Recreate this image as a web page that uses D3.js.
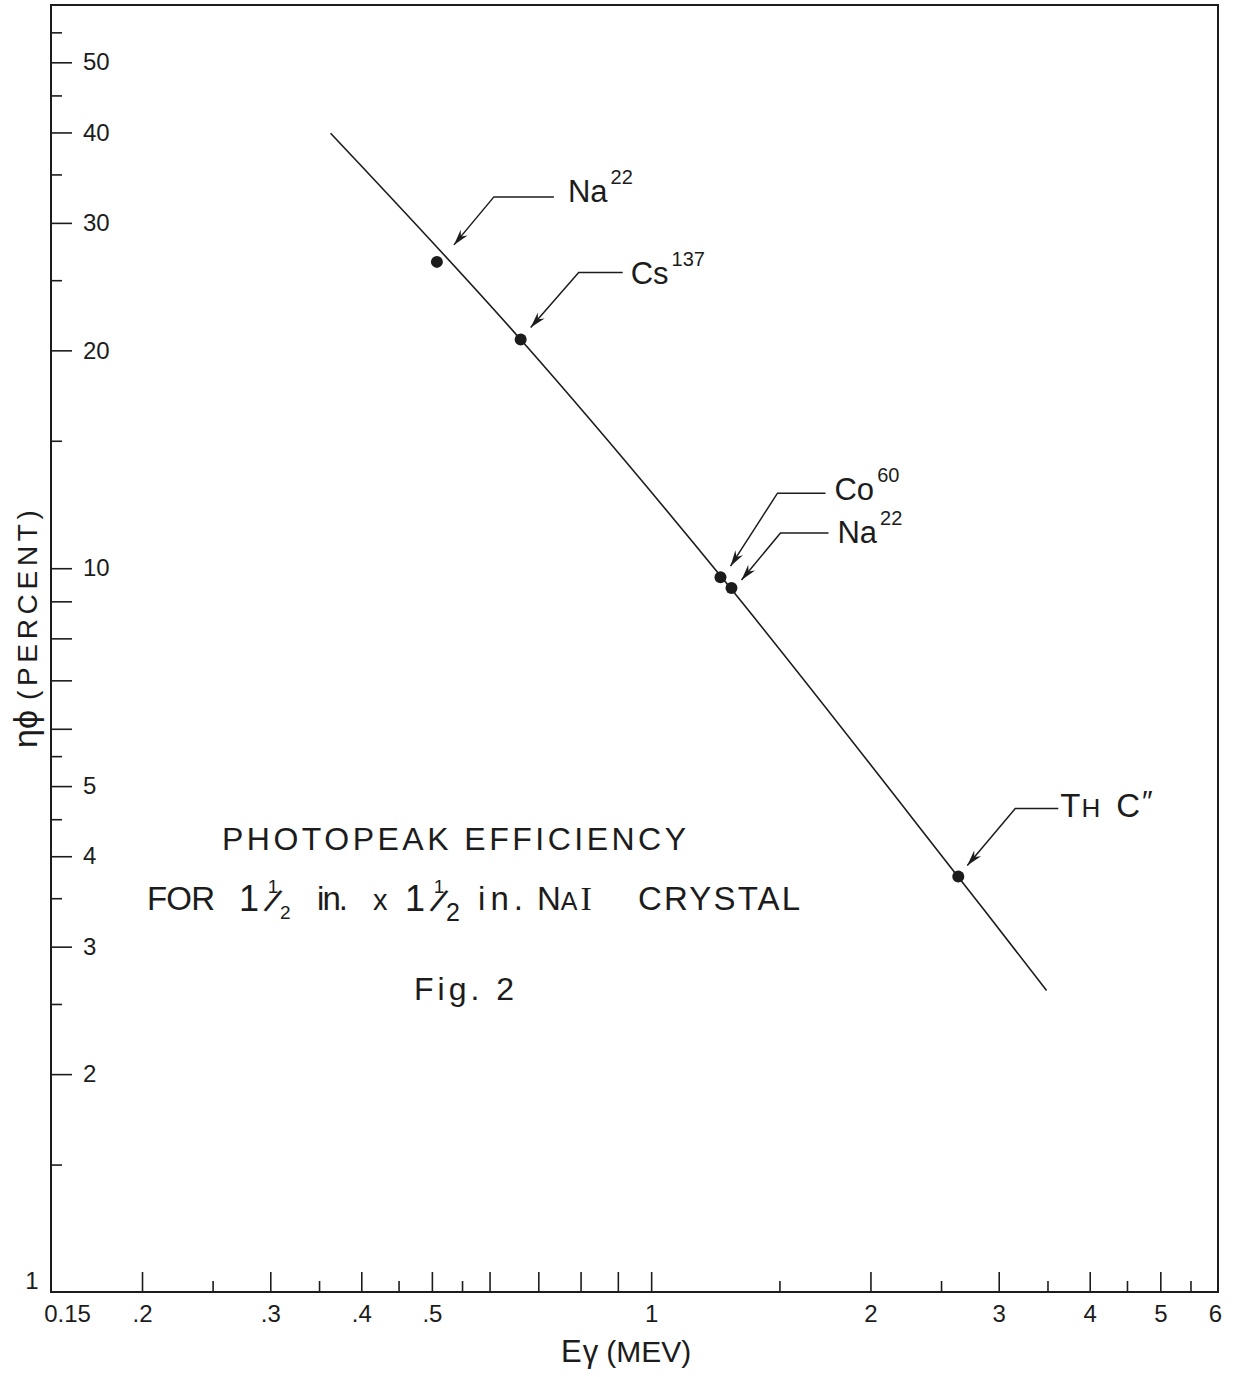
<!DOCTYPE html>
<html>
<head>
<meta charset="utf-8">
<script src="https://cdn.jsdelivr.net/npm/d3@7"></script>
<style>
  html, body { margin: 0; padding: 0; background: #ffffff; }
  svg { display: block; }
</style>
</head>
<body>
<svg id="chart" width="1234" height="1377"></svg>
<script>
// Calibration sources: gamma energy (MeV) and measured photopeak efficiency (%)
const sourceSymbol = ["Na", "Cs", "Co", "Na", "ThC"];
const sourceMass = ["22", "137", "60", "22", "″"];
const energy = [0.508, 0.662, 1.245, 1.289, 2.64];
const efficiency = [26.5, 20.7, 9.72, 9.39, 3.75];

// Smooth efficiency curve drawn through the measurements
const curveEnergy = [0.363, 0.662, 1.265, 2.64, 3.49];
const curveEfficiency = [39.9, 20.7, 9.57, 3.745, 2.61];

// Axis ticks and labels
const xMajorTicks = [0.2, 0.3, 0.4, 0.5, 0.6, 0.7, 0.8, 0.9, 1, 2, 3, 4, 5];
const xMinorTicks = [0.25, 0.35, 0.45, 0.55, 1.5, 2.5, 3.5, 4.5, 5.5];
const xLabelValues = [0.15, 0.2, 0.3, 0.4, 0.5, 1, 2, 3, 4, 5, 6];
const xTickLabels = ["0.15", ".2", ".3", ".4", ".5", "1", "2", "3", "4", "5", "6"];
const yMajorTicks = [2, 3, 4, 5, 6, 7, 8, 9, 10, 20, 30, 40, 50];
const yMinorTicks = [1.5, 2.5, 3.5, 4.5, 5.5, 15, 25, 35, 45, 55];
const yLabelValues = [1, 2, 3, 4, 5, 10, 20, 30, 40, 50];
const yTickLabels = ["1", "2", "3", "4", "5", "10", "20", "30", "40", "50"];

// Callout geometry (pixel offsets from each point): arrow tip, elbow, leader end, label origin
const calloutLayout = [
  { tip: [17, -17], elbow: [57, -65], end: [117, -65], label: [131, -60] },
  { tip: [10, -12], elbow: [58, -67], end: [102, -67], label: [110, -56] },
  { tip: [10, -11], elbow: [57, -84], end: [105, -84], label: [114, -77] },
  { tip: [10, -8],  elbow: [49, -55], end: [97, -55],  label: [106, -45] },
  { tip: [9, -11],  elbow: [57, -68], end: [100, -68], label: [102, -60] }
];

const ink = "#1c1c1c";
const font = "'Liberation Sans', Arial, sans-serif";
const serif = "'Liberation Serif', serif";

const svg = d3.select("#chart");
svg.append("rect").attr("width", 1234).attr("height", 1377).attr("fill", "#ffffff");

const x = d3.scaleLog().domain([0.15, 6]).range([51, 1218]);
const y = d3.scaleLog().domain([1, 60]).range([1292, 5]);

const defs = svg.append("defs");
defs.append("marker")
  .attr("id", "arrowhead")
  .attr("viewBox", "-17 -6 18 12")
  .attr("refX", 0).attr("refY", 0)
  .attr("markerWidth", 18).attr("markerHeight", 12)
  .attr("markerUnits", "userSpaceOnUse")
  .attr("orient", "auto")
  .append("path")
  .attr("d", "M0,0 L-16,-4.5 L-11,0 L-16,4.5 Z")
  .attr("fill", ink);

// Plot frame
svg.append("rect")
  .attr("x", x(0.15)).attr("y", y(60))
  .attr("width", x(6) - x(0.15)).attr("height", y(1) - y(60))
  .attr("fill", "none").attr("stroke", ink).attr("stroke-width", 2);

function styleAxis(g, size) {
  g.select(".domain").remove();
  g.selectAll(".tick line").attr("stroke", ink).attr("stroke-width", 1.6);
  g.attr("font-family", font).attr("font-size", size);
  g.selectAll(".tick text").attr("fill", ink);
}

// X axis: ticks point inward from the bottom edge
const gx = svg.append("g").attr("transform", `translate(0,${y(1)})`);
gx.append("g").call(d3.axisBottom(x).tickValues(xMajorTicks).tickSize(-20).tickFormat(""))
  .call(g => styleAxis(g, 24));
gx.append("g").call(d3.axisBottom(x).tickValues(xMinorTicks).tickSize(-11).tickFormat(""))
  .call(g => styleAxis(g, 24));
const gxl = gx.append("g")
  .call(d3.axisBottom(x).tickValues(xLabelValues).tickSize(0).tickPadding(13)
    .tickFormat((d, i) => xTickLabels[i]))
  .call(g => styleAxis(g, 24));
gxl.selectAll(".tick text").filter(d => d === 0.15).attr("dx", 16);
gxl.selectAll(".tick text").filter(d => d === 6).attr("dx", -3);

// Y axis: ticks point inward from the left edge, labels inside the frame
const gy = svg.append("g").attr("transform", `translate(${x(0.15)},0)`);
gy.append("g").call(d3.axisRight(y).tickValues(yMajorTicks).tickSize(21).tickFormat(""))
  .call(g => styleAxis(g, 24));
gy.append("g").call(d3.axisRight(y).tickValues(yMinorTicks).tickSize(11).tickFormat(""))
  .call(g => styleAxis(g, 24));
const gyl = gy.append("g")
  .call(d3.axisRight(y).tickValues(yLabelValues).tickSize(0).tickPadding(32)
    .tickFormat((d, i) => yTickLabels[i]))
  .call(g => styleAxis(g, 24));
gyl.selectAll(".tick text").filter(d => d === 1)
  .attr("x", -19).attr("text-anchor", "middle").attr("dy", "-0.15em");

// Efficiency curve
const curvePts = curveEnergy.map((e, i) => [x(e), y(curveEfficiency[i])]);
svg.append("path")
  .attr("d", d3.line().curve(d3.curveCatmullRom.alpha(0.5))(curvePts))
  .attr("fill", "none").attr("stroke", ink).attr("stroke-width", 1.6);

// Measured points
svg.append("g").selectAll("circle")
  .data(energy)
  .join("circle")
  .attr("cx", (d) => x(d))
  .attr("cy", (d, i) => y(efficiency[i]))
  .attr("r", 6)
  .attr("fill", ink);

// Source callouts
energy.forEach((e, i) => {
  const px = x(e), py = y(efficiency[i]);
  const L = calloutLayout[i];
  const pts = [L.end, L.elbow, L.tip].map(p => [px + p[0], py + p[1]]);
  svg.append("path")
    .attr("d", d3.line()(pts))
    .attr("fill", "none").attr("stroke", ink).attr("stroke-width", 1.5)
    .attr("marker-end", "url(#arrowhead)");

  const t = svg.append("text")
    .attr("x", px + L.label[0]).attr("y", py + L.label[1])
    .attr("font-family", font).attr("fill", ink);
  if (sourceSymbol[i] === "ThC") {
    t.append("tspan").attr("font-size", 33).text("T");
    t.append("tspan").attr("font-size", 26).attr("dx", 1).text("H");
    t.append("tspan").attr("font-size", 33).attr("dx", 16).text("C");
    t.append("tspan").attr("font-size", 30).attr("dx", 2).attr("dy", -6).text(sourceMass[i]);
  } else {
    t.append("tspan").attr("font-size", 31).text(sourceSymbol[i]);
    t.append("tspan").attr("font-size", 20).attr("dx", 3).attr("dy", -18).text(sourceMass[i]);
  }
});

// Figure caption inside the plot
const cap = svg.append("g").attr("font-family", font).attr("fill", ink);
cap.append("text").attr("x", 222).attr("y", 850).attr("font-size", 32)
  .attr("textLength", 464).attr("lengthAdjust", "spacing")
  .text("PHOTOPEAK  EFFICIENCY");

const base2 = 910;
function word(x0, str, size, len) {
  const t = cap.append("text").attr("x", x0).attr("y", base2).attr("font-size", size).text(str);
  if (len) t.attr("textLength", len).attr("lengthAdjust", "spacing");
  return t;
}
// "1½" written as a whole-number stroke followed by a stacked fraction
function oneAndHalf(x0, denomSize) {
  cap.append("text").attr("x", x0).attr("y", base2 + 1).attr("font-size", 36)
    .attr("text-anchor", "middle").text("1");
  cap.append("text").attr("x", x0 + 24).attr("y", base2 - 17).attr("font-size", 19)
    .attr("text-anchor", "middle").text("1");
  cap.append("text").attr("x", x0 + 24).attr("y", base2 + 3).attr("font-size", 34)
    .attr("text-anchor", "middle")
    .attr("transform", `rotate(24, ${x0 + 24}, ${base2 - 9})`).text("/");
  cap.append("text").attr("x", x0 + 31).attr("y", base2 + 9 + (denomSize - 18) / 3)
    .attr("font-size", denomSize).attr("text-anchor", "start").text("2");
}
word(147, "FOR", 33, 68);
oneAndHalf(249, 19);
word(317, "in.", 33, 31);
word(373, "x", 29);
oneAndHalf(415, 25);
word(478, "in.", 33, 45);
const nai = cap.append("text").attr("x", 537).attr("y", base2);
nai.append("tspan").attr("font-size", 33).text("N");
nai.append("tspan").attr("font-size", 25).attr("dx", 0).text("A");
nai.append("tspan").attr("font-size", 34).attr("dx", 3).attr("font-family", serif).text("I");
word(638, "CRYSTAL", 33, 162);

cap.append("text").attr("x", 414).attr("y", 1000).attr("font-size", 32)
  .attr("textLength", 100).attr("lengthAdjust", "spacing").text("Fig. 2");

// Axis titles
const xt = svg.append("text").attr("x", 561).attr("y", 1362)
  .attr("font-family", font).attr("fill", ink);
xt.append("tspan").attr("font-size", 31).text("E");
xt.append("tspan").attr("font-size", 31).attr("dx", 1).text("γ");
xt.append("tspan").attr("font-size", 30).attr("dx", 8).text("(MEV)");

const yt = svg.append("text")
  .attr("transform", "translate(37,748) rotate(-90)")
  .attr("font-family", font).attr("fill", ink);
yt.append("tspan").attr("font-size", 34).text("ηϕ");
yt.append("tspan").attr("font-size", 28).attr("dx", 10)
  .attr("textLength", 190).attr("lengthAdjust", "spacing").text("(PERCENT)");
</script>
</body>
</html>
